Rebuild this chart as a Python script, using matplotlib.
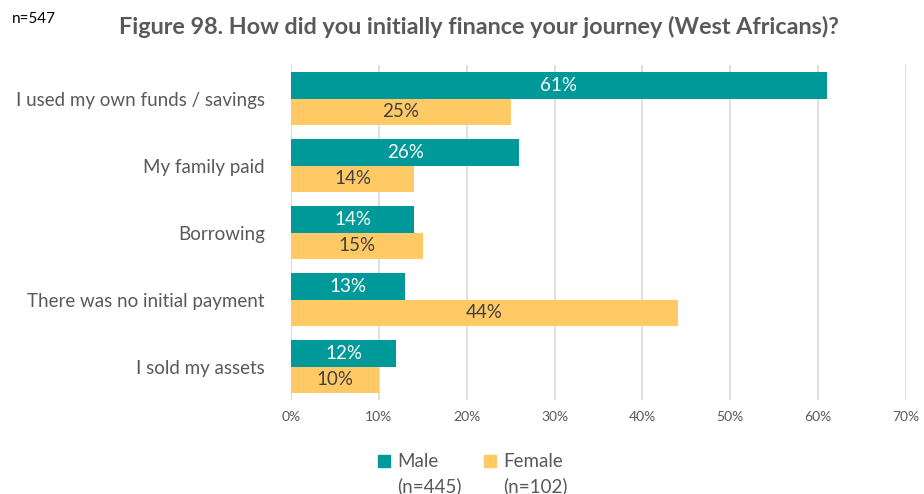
import numpy as np
import matplotlib.pyplot as plt
from matplotlib.patches import Rectangle

plt.rcParams['font.family'] = ['Lato', 'DejaVu Sans']

categories = ["I used my own funds / savings", "My family paid", "Borrowing",
              "There was no initial payment", "I sold my assets"]
male = [61, 26, 14, 13, 12]
female = [25, 14, 15, 44, 10]
male_lbl = ["61%", "26%", "14%", "13%", "12%"]
female_lbl = ["25%", "14%", "15%", "44%", "10%"]

teal = "#009999"
yellow = "#FFCA66"
grey = "#595959"

fig = plt.figure(figsize=(9.24, 4.94), dpi=100)
ax = fig.add_axes([0.315, 0.19, 0.6655, 0.678])

y = np.arange(len(categories))
h = 0.395
bm = ax.barh(y - h/2, male, height=h, color=teal)
bf = ax.barh(y + h/2, female, height=h, color=yellow)

for rect, t in zip(bm, male_lbl):
    ax.text(rect.get_width()/2, rect.get_y() + rect.get_height()/2, t,
            ha='center', va='center', color='white', fontsize=13.5)
for rect, t in zip(bf, female_lbl):
    ax.text(rect.get_width()/2, rect.get_y() + rect.get_height()/2, t,
            ha='center', va='center', color='#404040', fontsize=13.5)

ax.set_ylim(len(categories) - 0.5, -0.5)
ax.set_xlim(0, 70)
ax.set_xticks(range(0, 71, 10))
ax.set_xticklabels([f"{v}%" for v in range(0, 71, 10)], color=grey, fontsize=10)
ax.set_yticks(y)
ax.set_yticklabels(categories, color=grey, fontsize=13.5)
ax.tick_params(axis='both', length=0)
ax.tick_params(axis='x', pad=8)
ax.tick_params(axis='y', pad=19)
ax.grid(axis='x', color='#D9D9D9', linewidth=1.2)
ax.set_axisbelow(True)
for s in ax.spines.values():
    s.set_visible(False)
ax.axvline(0, color='#D9D9D9', linewidth=1.2, zorder=0)

fig.text(0.013, 0.962, "n=547", fontsize=11, color='black', ha='left', va='center')
fig.text(0.518, 0.945, "Figure 98. How did you initially finance your journey (West Africans)?",
         fontsize=16.8, fontweight='bold', color=grey, ha='center', va='center')

# legend, built by hand so the square sits beside the first line
W, H = 924, 494
legend_items = [("Male", "(n=445)", teal, 378), ("Female", "(n=102)", yellow, 484)]
for name, n_txt, col, x0 in legend_items:
    fig.add_artist(Rectangle((x0 / W, 1 - 467 / H), 12 / W, 12 / H,
                             transform=fig.transFigure, color=col))
    fig.text((x0 + 19) / W, 1 - 461 / H, name, fontsize=13.5, color=grey,
             ha='left', va='center')
    fig.text((x0 + 19) / W, 1 - 486 / H, n_txt, fontsize=13.5, color=grey,
             ha='left', va='center')

fig.savefig("out.png", dpi=100)
